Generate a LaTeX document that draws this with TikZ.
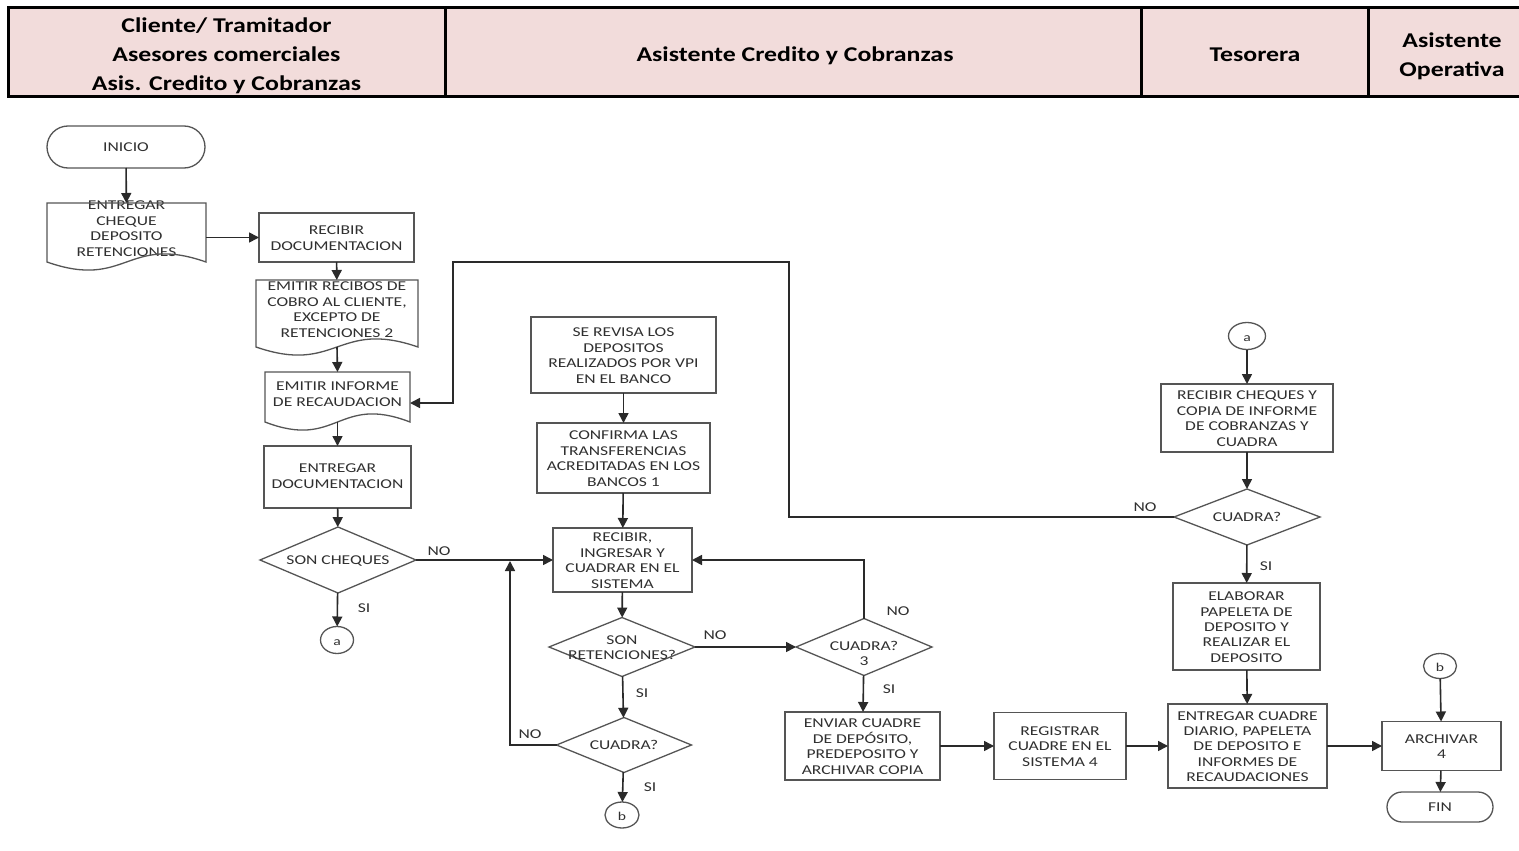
\documentclass[tikz,border=0pt]{standalone}
\usepackage{fontspec}
\setmainfont{Carlito}
\newfontfamily\boxfont{Carlito}[FakeStretch=1.3]
\newfontfamily\headfont{Carlito}[FakeStretch=1.23]
\usetikzlibrary{arrows.meta,shapes.geometric,calc}
\definecolor{hdrfill}{HTML}{F2DCDB}
\definecolor{boxc}{HTML}{555555}
\definecolor{linec}{HTML}{2A2A2A}
\definecolor{txtc}{HTML}{303030}
% centred multi-line text that takes no room, so the shape size is set by the style alone
\newcommand\T[2][-5.5pt]{\raisebox{#1}[0pt][0pt]{\makebox[0pt]{\begin{tabular}{@{}c@{}}#2\end{tabular}}}}
% outline of a document symbol (wavy lower edge) around a node
\newcommand\docoutline[1]{%
  \draw[boxc, line width=1.3pt] (#1.north west) -- (#1.north east) -- (#1.south east)
    .. controls ($(#1.south)+(0,-28)$) and ($(#1.south)+(0,28)$) .. (#1.south west) -- cycle;}
\begin{document}
\begin{tikzpicture}[x=1pt, y=-1pt,
  proc/.style={rectangle, draw=boxc, line width=1.3pt, inner sep=0pt, outer sep=0pt,
    text=txtc, font=\boxfont\fontsize{13.5}{15.4}\selectfont},
  docu/.style={proc, draw=none},
  dec/.style={proc, diamond},
  term/.style={proc},
  conn/.style={proc, ellipse, font=\boxfont\fontsize{12}{14}\selectfont},
  arr/.style={draw=linec, line width=1.6pt, -{Triangle[length=10pt,width=10pt]}},
  lab/.style={text=txtc, inner sep=0pt, font=\boxfont\fontsize{13.5}{15.4}\selectfont},
  hdr/.style={inner sep=0pt, text=black, font=\headfont\bfseries\fontsize{21}{29}\selectfont}]
\useasboundingbox (0,0) rectangle (1519,851);
\fill[white] (0,0) rectangle (1519,851);

% header band with the four lanes
\fill[hdrfill] (8,8) rectangle (1530,97);
\draw[black, line width=3pt] (8,8) rectangle (1530,97);
\draw[black, line width=3pt] (445,8) -- (445,97) (1141,8) -- (1141,97) (1368,8) -- (1368,97);
\node[hdr] (h1) at (226.5,53) {\T[-8pt]{Cliente/ Tramitador\\Asesores comerciales\\Asis. Credito y Cobranzas}};
\node[hdr] (h2) at (795,53) {\T[-8pt]{Asistente Credito y Cobranzas}};
\node[hdr] (h3) at (1255,53) {\T[-8pt]{Tesorera}};
\node[hdr] (h4) at (1452,53) {\T[-8pt]{Asistente\\Operativa}};

% first lane
\node[term, minimum width=158pt, minimum height=42pt, rounded corners=21pt] (inicio) at (126,147) {\T{INICIO}};
\node[docu, minimum width=159pt, minimum height=59pt] (entregar) at (126.5,232.5) {\T[-1pt]{ENTREGAR\\CHEQUE\\DEPOSITO\\RETENCIONES}};
\docoutline{entregar}
\node[proc, minimum width=155pt, minimum height=49pt] (recibir) at (336.5,237.5) {\T{RECIBIR\\DOCUMENTACION}};
\node[docu, minimum width=162pt, minimum height=67pt] (emitirrec) at (337,313.5) {\T[-1pt]{EMITIR RECIBOS DE\\COBRO AL CLIENTE,\\EXCEPTO DE\\RETENCIONES 2}};
\docoutline{emitirrec}
\node[docu, minimum width=145pt, minimum height=50pt] (informe) at (337.5,397) {\T[-2pt]{EMITIR INFORME\\DE RECAUDACION}};
\docoutline{informe}
\node[proc, minimum width=147pt, minimum height=62pt] (entdoc) at (337.5,477) {\T[-4pt]{ENTREGAR\\DOCUMENTACION}};
\node[dec, minimum width=156pt, minimum height=66pt] (soncheq) at (338,560) {\T{SON CHEQUES}};
\node[conn, minimum width=33pt, minimum height=27pt] (ca1) at (337,640) {\T{a}};

% second lane
\node[proc, minimum width=185pt, minimum height=76pt] (revisa) at (623.5,355) {\T{SE REVISA LOS\\DEPOSITOS\\REALIZADOS POR VPI\\EN EL BANCO}};
\node[proc, minimum width=173pt, minimum height=70pt] (confirma) at (623.5,458) {\T{CONFIRMA LAS\\TRANSFERENCIAS\\ACREDITADAS EN LOS\\BANCOS 1}};
\node[proc, minimum width=139pt, minimum height=64pt] (ingresar) at (622.5,560) {\T{RECIBIR,\\INGRESAR Y\\CUADRAR EN EL\\SISTEMA}};
\node[dec, minimum width=146pt, minimum height=59pt] (sonret) at (622,647) {\T{SON\\RETENCIONES?}};
\node[dec, minimum width=135pt, minimum height=55pt] (cuadra1) at (624,745) {\T{CUADRA?}};
\node[conn, minimum width=34pt, minimum height=26pt] (cb1) at (622,815) {\T{b}};
\node[dec, minimum width=136pt, minimum height=57pt] (cuadra3) at (864,647) {\T[-11.5pt]{CUADRA?\\3}};
\node[proc, minimum width=155pt, minimum height=68pt] (enviar) at (862.5,746) {\T{ENVIAR CUADRE\\DE DEPÓSITO,\\PREDEPOSITO Y\\ARCHIVAR COPIA}};
\node[proc, minimum width=132pt, minimum height=67pt] (registrar) at (1060,746) {\T{REGISTRAR\\CUADRE EN EL\\SISTEMA 4}};

% third lane
\node[conn, minimum width=37pt, minimum height=27pt] (ca2) at (1247,336) {\T{a}};
\node[proc, minimum width=172pt, minimum height=68pt] (recheq) at (1247,418) {\T{RECIBIR CHEQUES Y\\COPIA DE INFORME\\DE COBRANZAS Y\\CUADRA}};
\node[dec, minimum width=146pt, minimum height=56pt] (cuadra2) at (1247,517) {\T{CUADRA?}};
\node[proc, minimum width=147pt, minimum height=87pt] (elaborar) at (1246.5,626.5) {\T{ELABORAR\\PAPELETA DE\\DEPOSITO Y\\REALIZAR EL\\DEPOSITO}};
\node[proc, minimum width=159pt, minimum height=84pt] (entcuadre) at (1247.5,746) {\T{ENTREGAR CUADRE\\DIARIO, PAPELETA\\DE DEPOSITO E\\INFORMES DE\\RECAUDACIONES}};

% fourth lane
\node[conn, minimum width=33pt, minimum height=25pt] (cb2) at (1440,666) {\T{b}};
\node[proc, minimum width=119pt, minimum height=49pt] (archivar) at (1441.5,746) {\T{ARCHIVAR\\4}};
\node[term, minimum width=106pt, minimum height=30pt, rounded corners=15pt] (fin) at (1440,807) {\T{FIN}};

% branch labels
\node[lab] (l1) at (439,551) {NO};
\node[lab] (l2) at (364,608) {SI};
\node[lab] (l3) at (715,635) {NO};
\node[lab] (l4) at (642,693) {SI};
\node[lab] (l5) at (530,734) {NO};
\node[lab] (l6) at (650,787) {SI};
\node[lab] (l7) at (898,611) {NO};
\node[lab] (l8) at (889,689) {SI};
\node[lab] (l9) at (1145,507) {NO};
\node[lab] (l10) at (1266,566) {SI};

% bend points of the return lines
\coordinate (j1) at (510,561);
\coordinate (r1) at (789,262);
\coordinate (r2) at (453,262);

% connectors
\draw[arr] (inicio) -- (entregar);
\draw[arr] (entregar.east |- recibir.west) -- (recibir.west);
\draw[arr] (recibir) -- (emitirrec);
\draw[arr] (emitirrec.south) -- (informe.north);
\draw[arr] (informe.south) -- (entdoc.north);
\draw[arr] (entdoc) -- (soncheq);
\draw[arr] (soncheq) -- (ca1);
\draw[arr] (soncheq.east) -- (ingresar.west);
\draw[arr] (revisa) -- (confirma);
\draw[arr] (confirma) -- (ingresar);
\draw[arr] (ingresar) -- (sonret);
\draw[arr] (sonret.east) -- (cuadra3.west);
\draw[arr] (sonret) -- (cuadra1);
\draw[arr] (cuadra1.west) -| (j1);
\draw[arr] (cuadra1) -- (cb1);
\draw[arr] (cuadra3.north) |- (ingresar.east);
\draw[arr] (cuadra3) -- (enviar);
\draw[arr] (enviar) -- (registrar);
\draw[arr] (registrar) -- (entcuadre);
\draw[arr] (entcuadre) -- (archivar);
\draw[arr] (cb2) -- (archivar);
\draw[arr] (archivar) -- (fin);
\draw[arr] (ca2) -- (recheq);
\draw[arr] (recheq) -- (cuadra2);
\draw[arr] (cuadra2) -- (elaborar);
\draw[arr] (elaborar) -- (entcuadre);
\draw[arr] (cuadra2.west) -| (r1) -- (r2) |- ($(informe.east)+(0,6)$);
\end{tikzpicture}
\end{document}
